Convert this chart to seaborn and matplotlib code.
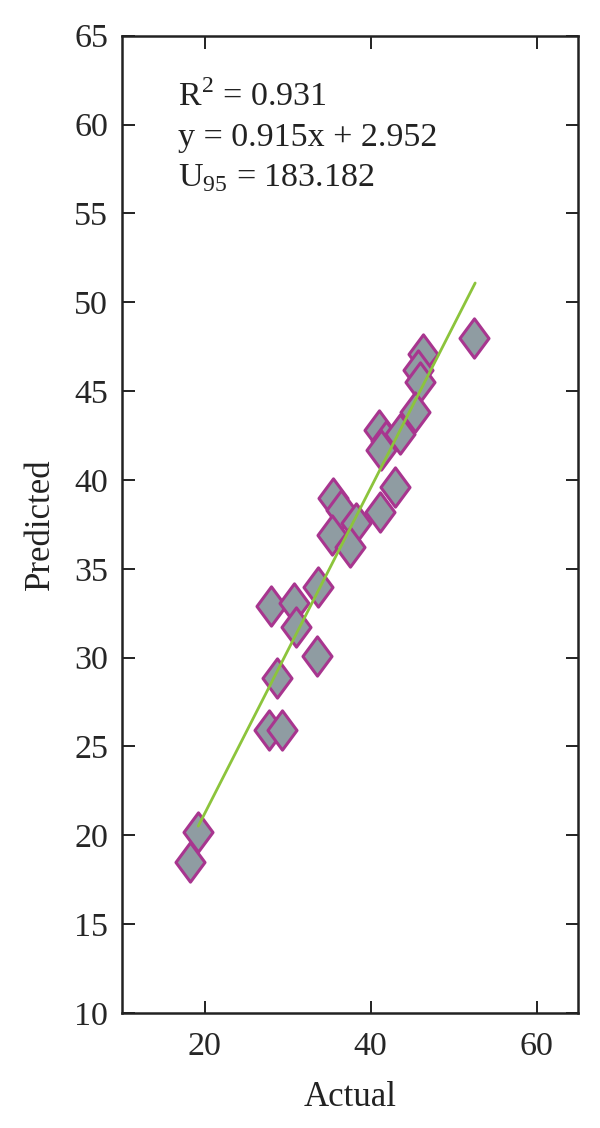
import numpy as np
import pandas as pd
import matplotlib
matplotlib.use("Agg")
import matplotlib.pyplot as plt
import seaborn as sns
from matplotlib.path import Path

# Data
actual = [18.2, 19.2, 27.7, 29.3, 28.7, 28.0, 30.8, 31.0, 33.5, 33.7,
          35.4, 36.4, 35.3, 38.2, 37.5, 41.1, 42.9, 52.5, 46.3, 45.7,
          45.9, 45.3, 41.0, 41.9, 43.5, 41.3]
predicted = [18.5, 20.2, 25.9, 25.9, 28.85, 32.9, 33.1, 31.7, 30.1, 34.0,
             39.0, 38.3, 36.9, 37.6, 36.2, 38.2, 39.6, 48.0, 47.1, 46.2,
             45.5, 43.8, 42.8, 42.2, 42.6, 41.7]
slope = 0.915
intercept = 2.952
fit_x = [19.2, 52.6]
x_ticks = [20, 40, 60]
y_ticks = [10, 15, 20, 25, 30, 35, 40, 45, 50, 55, 60, 65]

df = pd.DataFrame({"Actual": actual, "Predicted": predicted})
fit_df = pd.DataFrame({"x": fit_x, "y": [slope * v + intercept for v in fit_x]})

sns.set_theme(style="ticks")
plt.rcParams["font.family"] = ["Liberation Serif", "DejaVu Serif"]
plt.rcParams["mathtext.fontset"] = "custom"
plt.rcParams["mathtext.rm"] = "Liberation Serif"

fig = plt.figure(figsize=(6.0, 11.28), dpi=100)
ax = fig.add_axes([0.2033, 0.1019, 0.7600, 0.8665])

diamond = Path([(0, 1), (0.74, 0), (0, -1), (-0.74, 0), (0, 1)],
               [Path.MOVETO, Path.LINETO, Path.LINETO, Path.LINETO, Path.CLOSEPOLY])

sns.lineplot(data=fit_df, x="x", y="y", ax=ax, color="#8cc43c", lw=2.0, zorder=3)
sns.scatterplot(data=df, x="Actual", y="Predicted", ax=ax, marker=diamond,
                s=800, color="#8f9ca2", edgecolor="#a8358f", linewidth=2.2,
                zorder=2)

ax.set_xlim(10, 65)
ax.set_ylim(10, 65)
ax.set_xticks(x_ticks)
ax.set_yticks(y_ticks)
ax.tick_params(direction="in", length=9, width=1.4, labelsize=24.5, color="#222222",
               top=True, right=True, pad=10)
ax.tick_params(axis="x", pad=13)
for sp in ax.spines.values():
    sp.set_linewidth(1.8)
    sp.set_color("#222222")
    sp.set_visible(True)

ax.set_xlabel("Actual", fontsize=25, labelpad=14, color="#222222")
ax.set_ylabel("Predicted", fontsize=25, labelpad=12, color="#222222")

txt = "R$^{2}$ = 0.931\ny = 0.915x + 2.952\nU$_{95}$ = 183.182"
ax.text(0.123, 0.954, txt, transform=ax.transAxes, ha="left", va="top",
        fontsize=24.5, linespacing=1.38, color="#222222")

fig.savefig("out.png", dpi=100)
